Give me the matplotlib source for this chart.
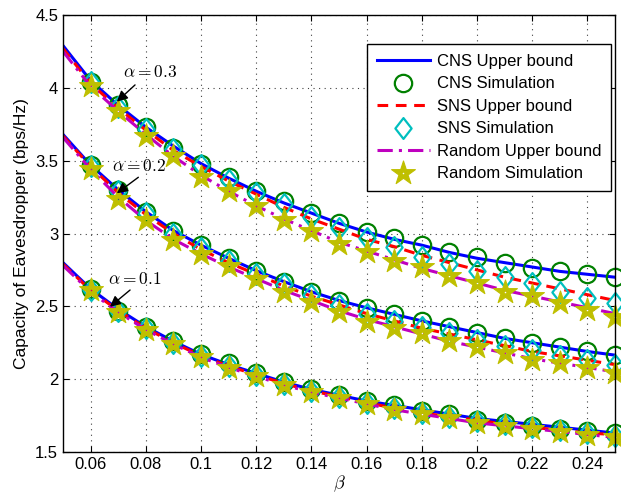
import numpy as np
import matplotlib
matplotlib.use("Agg")
import matplotlib.pyplot as plt
from matplotlib.path import Path

plt.rcParams['font.family'] = ['Liberation Sans', 'DejaVu Sans']
plt.rcParams['mathtext.fontset'] = 'cm'

# beta grid: upper bounds are drawn from 0.05, simulations start at 0.06
beta_line = [0.05, 0.06, 0.07, 0.08, 0.09, 0.10, 0.11, 0.12, 0.13, 0.14, 0.15,
             0.16, 0.17, 0.18, 0.19, 0.20, 0.21, 0.22, 0.23, 0.24, 0.25]
beta_sim = beta_line[1:]

# alpha = 0.3
cns_ub_3 = [4.29, 4.05, 3.88, 3.73, 3.60, 3.48, 3.38, 3.29, 3.21, 3.14, 3.07,
            3.01, 2.96, 2.92, 2.87, 2.83, 2.80, 2.77, 2.74, 2.72, 2.70]
cns_sim_3 = [4.04, 3.88, 3.73, 3.59, 3.48, 3.39, 3.29, 3.22, 3.14, 3.07,
             3.01, 2.97, 2.92, 2.87, 2.84, 2.80, 2.76, 2.74, 2.72, 2.70]
sns_ub_3 = [4.27, 4.03, 3.86, 3.71, 3.57, 3.46, 3.36, 3.27, 3.18, 3.10, 3.03,
            2.96, 2.91, 2.85, 2.80, 2.75, 2.70, 2.66, 2.62, 2.58, 2.54]
sns_sim_3 = [4.04, 3.87, 3.72, 3.58, 3.47, 3.37, 3.28, 3.20, 3.11, 3.04,
             2.97, 2.91, 2.84, 2.79, 2.74, 2.70, 2.66, 2.60, 2.555, 2.52]
rnd_ub_3 = [4.25, 4.01, 3.84, 3.68, 3.53, 3.40, 3.29, 3.19, 3.10, 3.02, 2.94,
            2.88, 2.82, 2.76, 2.71, 2.66, 2.61, 2.57, 2.53, 2.49, 2.45]
rnd_sim_3 = [4.01, 3.84, 3.67, 3.53, 3.39, 3.29, 3.19, 3.09, 3.02, 2.93,
             2.875, 2.81, 2.77, 2.71, 2.66, 2.60, 2.57, 2.52, 2.475, 2.43]

# alpha = 0.2
cns_ub_2 = [3.68, 3.47, 3.30, 3.15, 3.02, 2.92, 2.83, 2.745, 2.67, 2.60, 2.54,
            2.49, 2.445, 2.40, 2.36, 2.32, 2.28, 2.25, 2.22, 2.19, 2.165]
cns_sim_2 = [3.47, 3.30, 3.15, 3.02, 2.92, 2.83, 2.745, 2.67, 2.60, 2.54,
             2.49, 2.445, 2.40, 2.36, 2.315, 2.28, 2.25, 2.22, 2.19, 2.165]
sns_ub_2 = [3.67, 3.46, 3.28, 3.13, 3.00, 2.89, 2.80, 2.72, 2.64, 2.57, 2.51,
            2.45, 2.40, 2.35, 2.31, 2.27, 2.23, 2.19, 2.16, 2.13, 2.10]
sns_sim_2 = [3.46, 3.29, 3.14, 3.00, 2.90, 2.81, 2.725, 2.65, 2.58, 2.51,
             2.45, 2.40, 2.36, 2.32, 2.27, 2.23, 2.20, 2.16, 2.13, 2.10]
rnd_ub_2 = [3.66, 3.44, 3.25, 3.09, 2.96, 2.86, 2.77, 2.69, 2.61, 2.54, 2.47,
            2.41, 2.36, 2.31, 2.26, 2.22, 2.18, 2.14, 2.11, 2.08, 2.05]
rnd_sim_2 = [3.44, 3.24, 3.09, 2.955, 2.86, 2.78, 2.685, 2.60, 2.53, 2.46,
             2.395, 2.35, 2.315, 2.26, 2.22, 2.18, 2.13, 2.11, 2.075, 2.04]

# alpha = 0.1
cns_ub_1 = [2.80, 2.62, 2.48, 2.36, 2.26, 2.17, 2.10, 2.04, 1.98, 1.93, 1.89,
            1.85, 1.82, 1.79, 1.76, 1.73, 1.71, 1.69, 1.67, 1.65, 1.63]
cns_sim_1 = [2.62, 2.47, 2.36, 2.26, 2.17, 2.11, 2.04, 1.98, 1.93, 1.89,
             1.85, 1.82, 1.78, 1.76, 1.72, 1.70, 1.68, 1.66, 1.645, 1.63]
sns_ub_1 = [2.79, 2.61, 2.47, 2.35, 2.25, 2.16, 2.09, 2.03, 1.97, 1.92, 1.88,
            1.84, 1.80, 1.77, 1.74, 1.72, 1.69, 1.67, 1.65, 1.63, 1.62]
sns_sim_1 = [2.61, 2.465, 2.35, 2.25, 2.16, 2.09, 2.03, 1.97, 1.92, 1.875,
             1.835, 1.80, 1.77, 1.74, 1.71, 1.69, 1.67, 1.65, 1.63, 1.61]
rnd_ub_1 = [2.78, 2.60, 2.46, 2.34, 2.24, 2.15, 2.08, 2.02, 1.96, 1.91, 1.87,
            1.83, 1.79, 1.76, 1.73, 1.70, 1.68, 1.66, 1.64, 1.62, 1.60]
rnd_sim_1 = [2.61, 2.46, 2.34, 2.24, 2.15, 2.08, 2.02, 1.96, 1.91, 1.87,
             1.83, 1.79, 1.76, 1.73, 1.70, 1.68, 1.66, 1.64, 1.62, 1.60]

alpha_labels = [r'$\alpha=0.3$', r'$\alpha=0.2$', r'$\alpha=0.1$']

x_ticks = [0.06, 0.08, 0.10, 0.12, 0.14, 0.16, 0.18, 0.20, 0.22, 0.24]
x_tick_labels = ['0.06', '0.08', '0.1', '0.12', '0.14', '0.16', '0.18', '0.2', '0.22', '0.24']
y_ticks = [1.5, 2.0, 2.5, 3.0, 3.5, 4.0, 4.5]
y_tick_labels = ['1.5', '2', '2.5', '3', '3.5', '4', '4.5']


def pentagram():
    # matlab style pentagram, with the small hole in the middle
    ang_out = np.deg2rad(90 + 72 * np.arange(5))
    ang_in = ang_out + np.deg2rad(36)
    pts = []
    for a, b in zip(ang_out, ang_in):
        pts.append((np.cos(a), np.sin(a)))
        pts.append((0.382 * np.cos(b), 0.382 * np.sin(b)))
    hole = [(0.13 * np.cos(a), 0.13 * np.sin(a)) for a in ang_in[::-1]]
    verts = pts + [pts[0]] + hole + [hole[0]]
    codes = ([Path.MOVETO] + [Path.LINETO] * 9 + [Path.CLOSEPOLY]
             + [Path.MOVETO] + [Path.LINETO] * 4 + [Path.CLOSEPOLY])
    return Path(verts, codes)


diamond = Path([(0, 1), (0.78, 0), (0, -1), (-0.78, 0), (0, 1)],
               [Path.MOVETO, Path.LINETO, Path.LINETO, Path.LINETO, Path.CLOSEPOLY])
star = pentagram()

green = (0, 0.5, 0)
cyan = (0, 0.75, 0.75)
magenta = (0.75, 0, 0.75)
olive = (0.75, 0.75, 0)

fig = plt.figure(figsize=(6.21, 4.93), dpi=100)
ax = fig.add_axes([63 / 621, 1 - 452 / 493, (615 - 63) / 621, (452 - 15) / 493])

groups = [
    (cns_ub_3, cns_sim_3, sns_ub_3, sns_sim_3, rnd_ub_3, rnd_sim_3),
    (cns_ub_2, cns_sim_2, sns_ub_2, sns_sim_2, rnd_ub_2, rnd_sim_2),
    (cns_ub_1, cns_sim_1, sns_ub_1, sns_sim_1, rnd_ub_1, rnd_sim_1),
]

handles = None
for i, (cu, cs, su, ss, ru, rs) in enumerate(groups):
    h1, = ax.plot(beta_line, cu, color='b', lw=2.2)
    h2, = ax.plot(beta_sim, cs, ls='none', marker='o', ms=12.5, mfc='none',
                  mec=green, mew=1.6, clip_on=False)
    h3, = ax.plot(beta_line, su, color='r', lw=2.2, ls=(0, (3.5, 2.5)))
    h4, = ax.plot(beta_sim, ss, ls='none', marker=diamond, ms=15, mfc='none',
                  mec=cyan, mew=1.6, clip_on=False)
    h5, = ax.plot(beta_line, ru, color=magenta, lw=2.2, ls=(0, (5, 2, 1, 2)))
    h6, = ax.plot(beta_sim, rs, ls='none', marker=star, ms=18, mfc=olive,
                  mec=olive, mew=0.8, clip_on=False)
    if handles is None:
        handles = [h1, h2, h3, h4, h5, h6]

# alpha annotations
text_pos = [(0.0717, 4.11), (0.0676, 3.46), (0.0663, 2.688)]
arrow_tip = [(0.0695, 3.905), (0.0695, 3.276), (0.0670, 2.497)]
arrow_tail = [(0.0761, 4.02), (0.0773, 3.386), (0.0743, 2.612)]
for lab, tp, tip, tail in zip(alpha_labels, text_pos, arrow_tip, arrow_tail):
    ax.text(tp[0], tp[1], lab, fontsize=12.5, ha='left', va='center', zorder=5)
    ax.annotate('', xy=tip, xytext=tail,
                arrowprops=dict(arrowstyle='-|>', color='k', lw=1.0,
                                mutation_scale=16, shrinkA=0, shrinkB=0),
                zorder=5)

ax.set_xlim(0.05, 0.25)
ax.set_ylim(1.5, 4.5)
ax.set_xticks(x_ticks)
ax.set_xticklabels(x_tick_labels)
ax.set_yticks(y_ticks)
ax.set_yticklabels(y_tick_labels)
ax.tick_params(direction='in', top=True, right=True, labelsize=12, length=4)
ax.grid(True, ls=(0, (1, 4)), color='0.25', lw=0.8)
for sp in ax.spines.values():
    sp.set_linewidth(1.0)

ax.set_xlabel(r'$\beta$', fontsize=13, labelpad=1)
ax.set_ylabel('Capacity of Eavesdropper (bps/Hz)', fontsize=12.5, labelpad=4)

leg = ax.legend(handles, ['CNS Upper bound', 'CNS Simulation', 'SNS Upper bound',
                          'SNS Simulation', 'Random Upper bound', 'Random Simulation'],
                loc='upper right', bbox_to_anchor=(0.993, 0.934), borderaxespad=0,
                fontsize=12, numpoints=1, handlelength=3.2, handletextpad=0.4,
                labelspacing=0.45, borderpad=0.6, fancybox=False,
                framealpha=1, edgecolor='k')
leg.get_frame().set_linewidth(1.0)

fig.savefig('out.png', dpi=100)
